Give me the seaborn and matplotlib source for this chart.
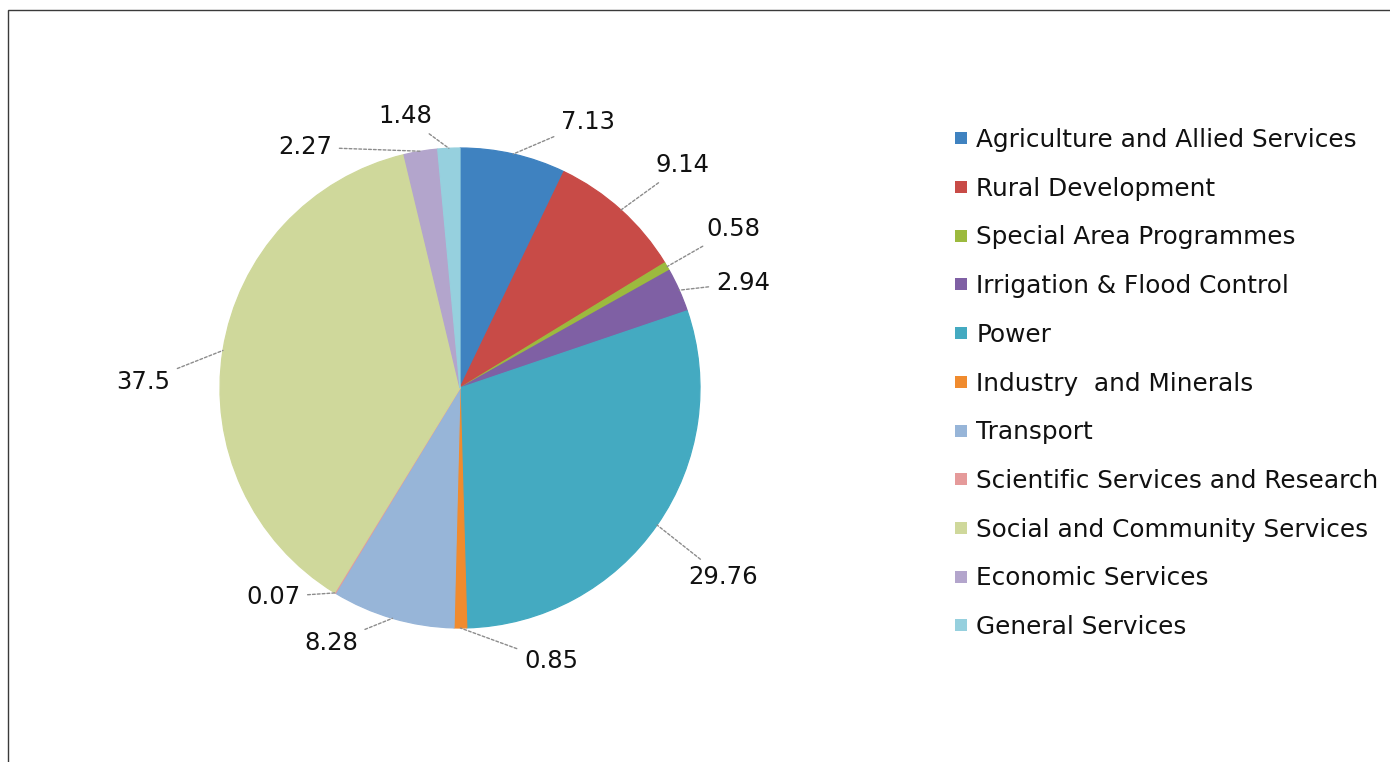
import matplotlib
matplotlib.use("Agg")
import matplotlib.pyplot as plt
from matplotlib.lines import Line2D
from matplotlib.patches import Rectangle
import numpy as np
import seaborn as sns

# Sector shares of plan outlay (%)
sectors = [
    "Agriculture and Allied Services",
    "Rural Development",
    "Special Area Programmes",
    "Irrigation & Flood Control",
    "Power",
    "Industry  and Minerals",
    "Transport",
    "Scientific Services and Research",
    "Social and Community Services",
    "Economic Services",
    "General Services",
]
shares = [7.13, 9.14, 0.58, 2.94, 29.76, 0.85, 8.28, 0.07, 37.5, 2.27, 1.48]
value_labels = ["7.13", "9.14", "0.58", "2.94", "29.76", "0.85",
                "8.28", "0.07", "37.5", "2.27", "1.48"]

slice_colors = ["#3F82C0", "#C84B47", "#9CBA3E", "#7F60A4", "#44AAC1", "#F08B2E",
                "#97B5D8", "#E59A9A", "#CFD89B", "#B3A5CC", "#96D0DE"]

# Where each value label sits, in units of the pie radius
label_pos = [(0.533, 1.108), (0.929, 0.929), (1.138, 0.663), (1.179, 0.438),
             (1.096, -0.788), (0.379, -1.138), (-0.538, -1.063), (-0.779, -0.871),
             (-1.320, 0.025), (-0.646, 1.004), (-0.229, 1.133)]

sns.set_theme(style="white")
plt.rcParams["font.family"] = ["DejaVu Sans"]
palette = sns.color_palette(slice_colors)

W, H = 1390, 762
fig = plt.figure(figsize=(W / 100, H / 100), dpi=100)
fig.patch.set_facecolor("white")

cx, cy, R = 460, 388, 240
s = 1.5
side = 2 * s * R
ax = fig.add_axes([(cx - side / 2) / W, (H - cy - side / 2) / H, side / W, side / H])

wedges, _ = ax.pie(shares, colors=palette, startangle=90, counterclock=False,
                   radius=1.0, wedgeprops=dict(linewidth=0.9))
for w in wedges:
    w.set_edgecolor(w.get_facecolor())
ax.set_xlim(-s, s)
ax.set_ylim(-s, s)
ax.set_aspect("equal")
ax.axis("off")

for w, lab, (tx, ty) in zip(wedges, value_labels, label_pos):
    mid = np.deg2rad((w.theta1 + w.theta2) / 2)
    ex, ey = np.cos(mid), np.sin(mid)
    ax.annotate(lab, xy=(ex, ey), xytext=(tx, ty), ha="center", va="center",
                fontsize=17.5, color="#111111", annotation_clip=False,
                arrowprops=dict(arrowstyle="-", color="#8C8C8C", lw=1.0,
                                linestyle=(0, (2, 1.5)), shrinkA=3, shrinkB=0))

handles = [Line2D([0], [0], marker="s", linestyle="none", markersize=8.6,
                  markerfacecolor=c, markeredgewidth=0) for c in palette]
leg = fig.legend(handles, sectors, loc="center left",
                 bbox_to_anchor=(954 / W, 1 - 383.5 / H), frameon=False,
                 fontsize=17.8, handlelength=0.6, handletextpad=0.3,
                 labelspacing=1.0, borderpad=0, borderaxespad=0)
for t in leg.get_texts():
    t.set_color("#111111")

# Outer frame (top and left edges visible)
fig.add_artist(Rectangle((8 / W, -0.2), 1.2, 1.2 - 10 / H, transform=fig.transFigure,
                         fill=False, edgecolor="#3A3A3A", linewidth=1.0, clip_on=False))

fig.savefig("out.png", dpi=100, facecolor="white")
